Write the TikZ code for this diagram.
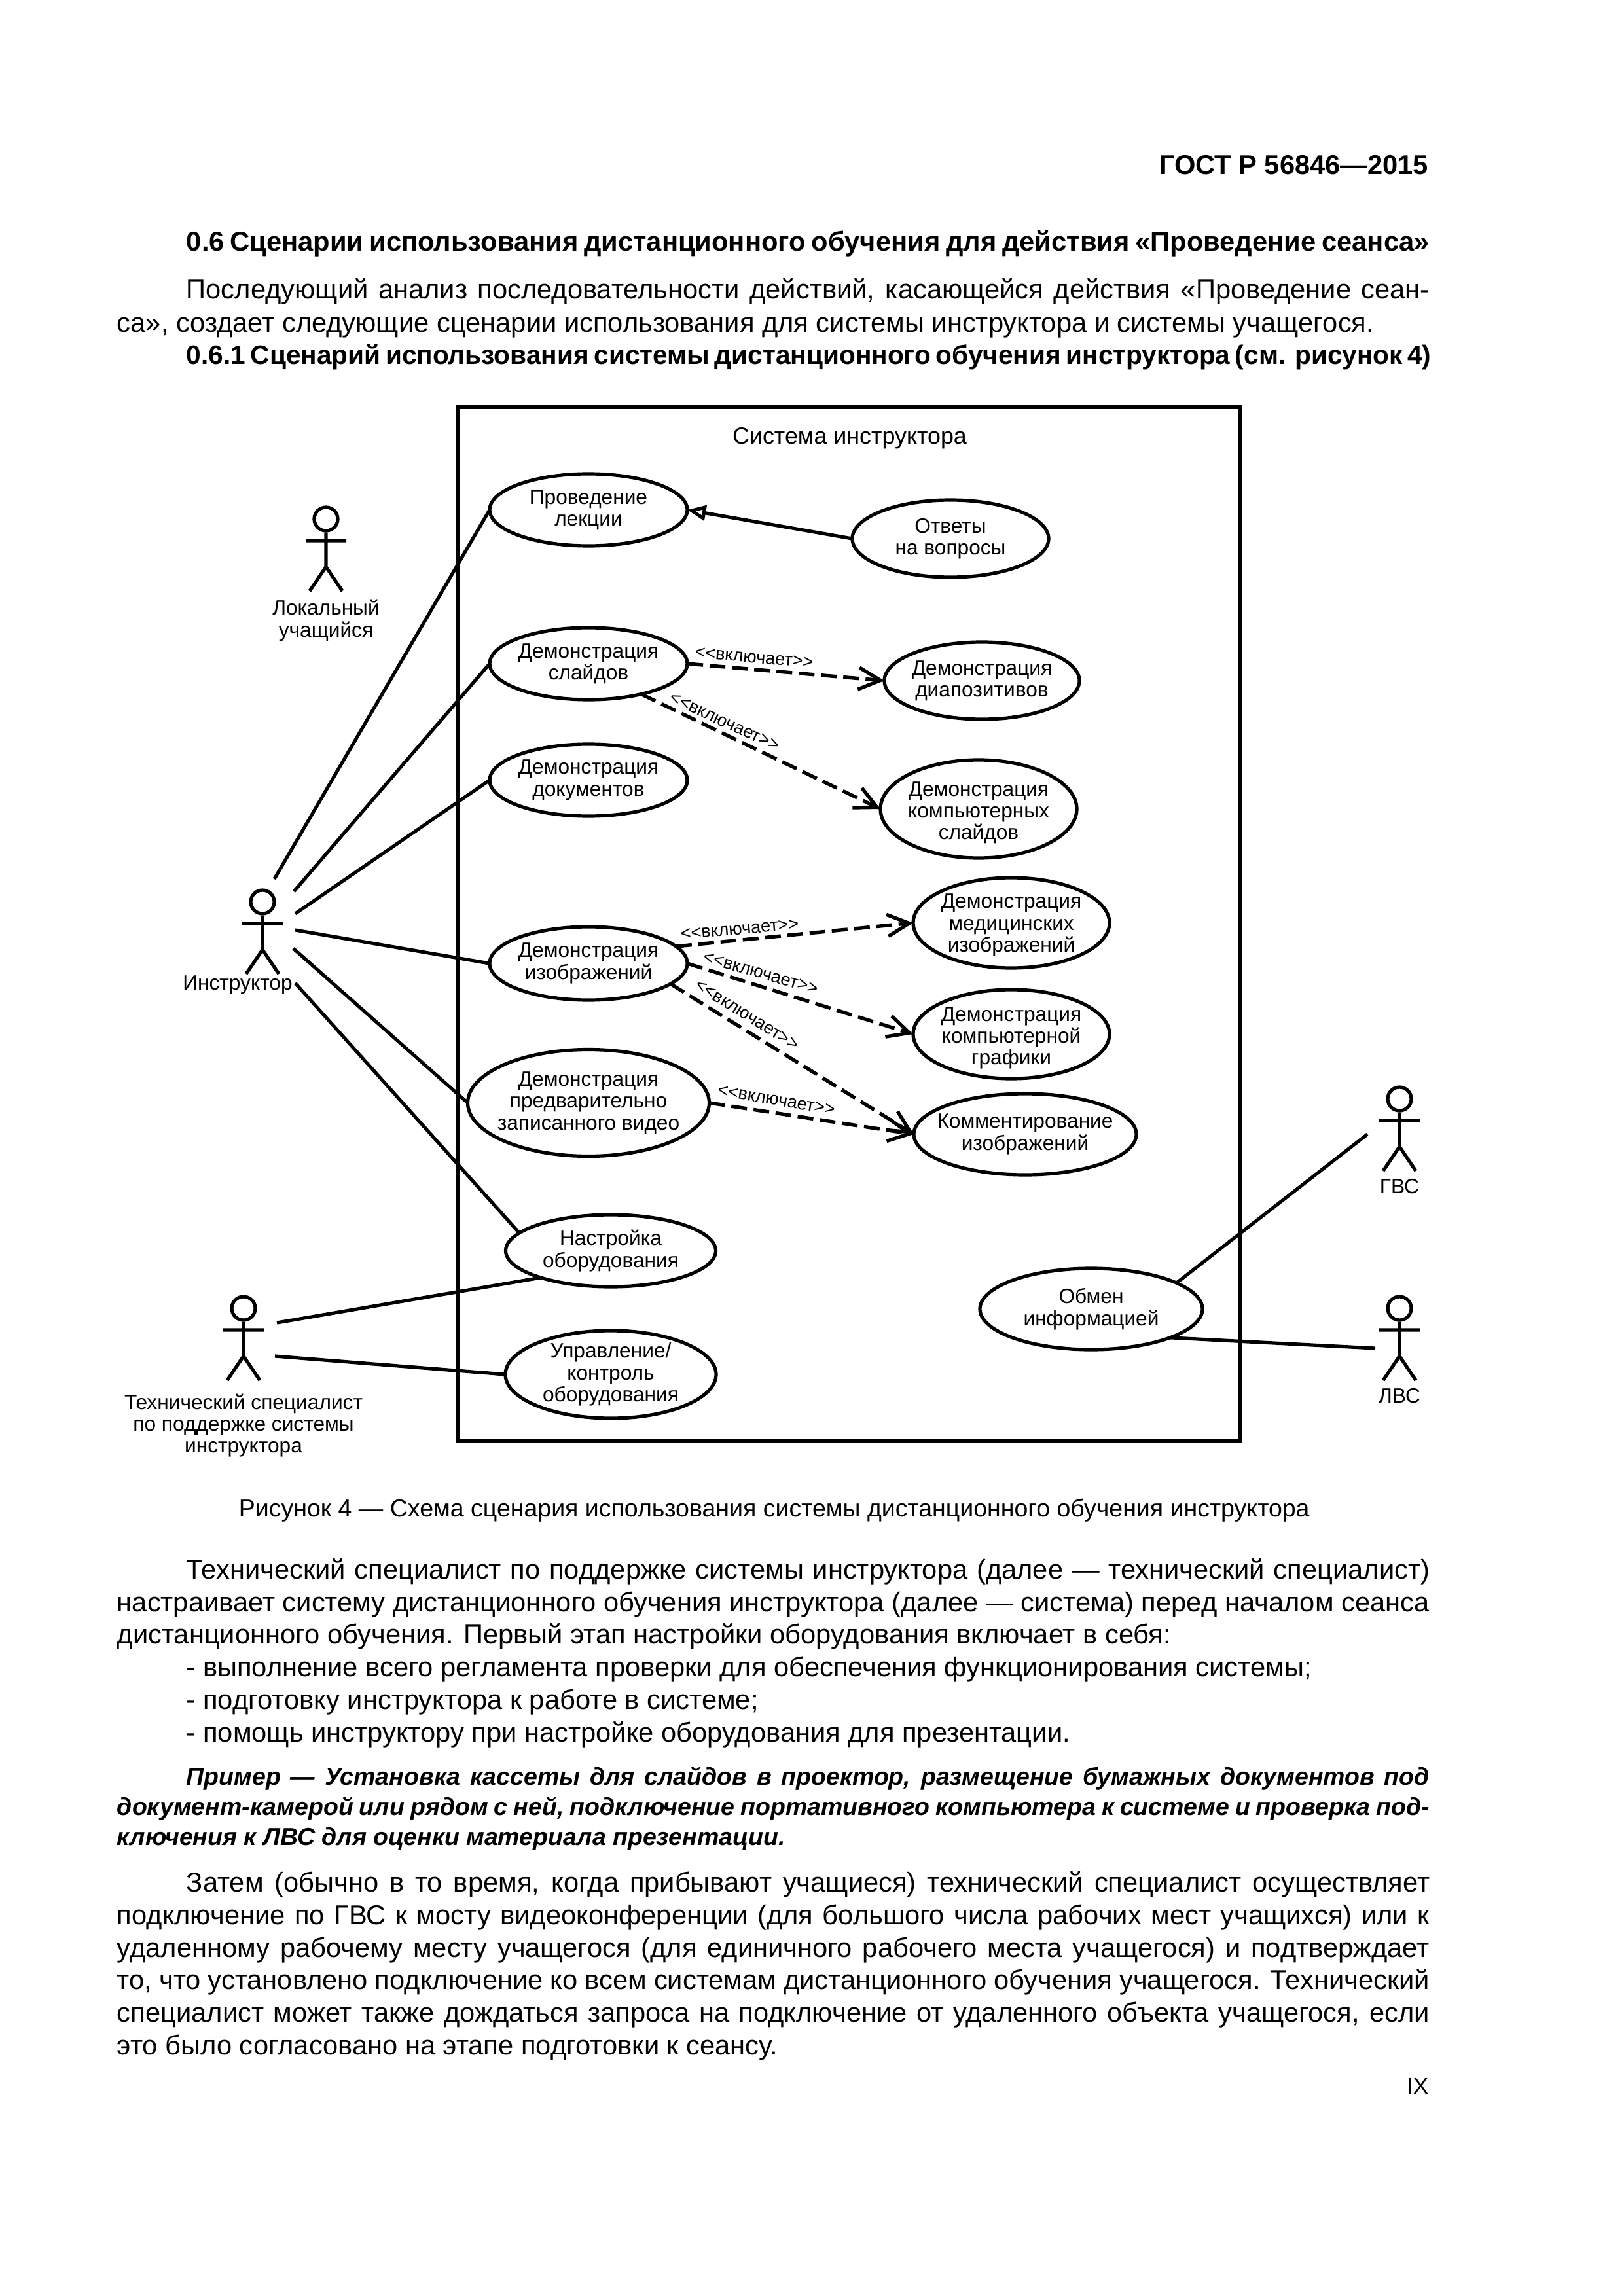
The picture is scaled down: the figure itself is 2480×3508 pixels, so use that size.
\documentclass[tikz,border=0pt]{standalone}
\usepackage{fontspec}
\setmainfont{Liberation Sans}
\usetikzlibrary{shapes.geometric,arrows.meta}

\newcommand{\bodyline}[1]{\makebox[481.2pt][s]{#1}}
\newcommand{\indentline}[1]{\makebox[455.8pt][s]{#1}}

\tikzset{
  usecase/.style 2 args={ellipse,draw,line width=1.25pt,inner sep=-12pt,outer sep=0pt,align=center,
    minimum width=#1*0.24pt,minimum height=#2*0.24pt,font=\fontsize{7.6}{8}\selectfont},
  assoc/.style={line width=1.25pt},
  incl/.style={line width=1.3pt,dash pattern=on 5.8pt off 2.4pt,-{Straight Barb[length=8pt,width=8pt]}},
  inherit/.style={line width=1.25pt,-{Triangle[open,fill=white,length=6.8pt,width=5.6pt]}},
  incltext/.style={inner sep=0pt,rotate=#1,font=\fontsize{6.5}{7}\selectfont},
  actortext/.style={inner sep=0pt,align=center,font=\fontsize{7.6}{8}\selectfont},
  body/.style={anchor=base west,inner sep=0pt,font=\fontsize{10}{12}\selectfont},
  bodyb/.style={body,font=\fontsize{10}{12}\selectfont\bfseries},
  bodyi/.style={body,font=\fontsize{9}{11}\selectfont\bfseries\itshape},
  actorfig/.pic={
    \node (-head) [circle,draw,line width=1.25pt,inner sep=0pt,minimum size=36*0.24pt] at (0,0) {};
    \draw [line width=1.25pt] (-head.south) -- (0,-73) (-31,-33) -- (31,-33) (-25,-110) -- (0,-73) -- (25,-110);
  }
}

\begin{document}
\begin{tikzpicture}[x=0.24pt,y=0.24pt,yscale=-1,xscale=1]
\useasboundingbox (0,0) rectangle (2480,3508);

% Text Node
\draw (2183,267) node (hdr) [bodyb,anchor=base east] {ГОСТ Р 56846—2015};
\draw (284,384) node (sec06) [bodyb] {\indentline{0.6 Сценарии использования дистанционного обучения для действия «Проведение сеанса»}};
\draw (284,457) node (para) [body] {\indentline{Последующий анализ последовательности действий, касающейся действия «Проведение сеан-}};
\draw (178,508) node (parb) [body] {са», создает следующие сценарии использования для системы инструктора и системы учащегося.};
\draw (284,557) node (sec061) [bodyb,font=\fontsize{9.75}{12}\selectfont\bfseries] {\indentline{0.6.1 Сценарий использования системы дистанционного обучения инструктора (см. рисунок 4)}};

%Shape: Boundary
\draw [line width=1.25pt] (700,622) rectangle (1894,2202);
% Text Node
\draw (1298,679) node (systitle) [anchor=base,inner sep=0pt,font=\fontsize{8.6}{9}\selectfont] {Система инструктора};

%Shape: Ellipse
\draw (899,779) node (lecture) [usecase={302}{110}] {Проведение\\лекции};
\draw (1452,823) node (answers) [usecase={300}{118}] {Ответы\\на вопросы};
\draw (899,1014) node (slides) [usecase={302}{110}] {Демонстрация\\слайдов};
\draw (1500,1040) node (transp) [usecase={298}{118}] {Демонстрация\\диапозитивов};
\draw (899,1192) node (docs) [usecase={302}{110}] {Демонстрация\\документов};
\draw (1495,1236) node (compsl) [usecase={300}{150}] {\rule{0pt}{8pt}Демонстрация\\компьютерных\\слайдов};
\draw (1545,1410) node (medimg) [usecase={300}{138}] {\rule{0pt}{7pt}Демонстрация\\медицинских\\изображений};
\draw (899,1472) node (images) [usecase={302}{112}] {Демонстрация\\изображений};
\draw (1545,1580) node (graph) [usecase={300}{136}] {\rule{0pt}{8pt}Демонстрация\\компьютерной\\графики};
\draw (899,1685) node (video) [usecase={369}{163}] {Демонстрация\\предварительно\\записанного видео};
\draw (1566,1733) node (annot) [usecase={340}{124}] {Комментирование\\изображений};
\draw (933,1911) node (setup) [usecase={321}{110}] {Настройка\\оборудования};
\draw (933,2100) node (control) [usecase={322}{134}] {Управление/\\контроль\\оборудования};
\draw (1667,2000) node (exch) [usecase={340}{124}] {Обмен\\информацией};

%Shape: Actor
\pic (local) at (498,793) {actorfig};
\pic (instr) at (401,1378) {actorfig};
\pic (tech) at (372,1999) {actorfig};
\pic (wan) at (2138,1679) {actorfig};
\pic (lan) at (2138,1999) {actorfig};

% Text Node
\draw (498,948) node (locallab) [actortext] {Локальный\\учащийся};
\draw (363,1505) node (instrlab) [actortext] {Инструктор};
\draw (372,2178) node (techlab) [actortext] {Технический специалист\\по поддержке системы\\инструктора};
\draw (2138,1813) node (wanlab) [actortext] {ГВС};
\draw (2138,2133) node (lanlab) [actortext] {ЛВС};

% Free ends beside the actors
\coordinate (i1) at (419,1343);
\coordinate (i2) at (449,1362);
\coordinate (i3) at (451,1396);
\coordinate (i4) at (451,1421);
\coordinate (i5) at (448,1449);
\coordinate (i6) at (451,1502);
\coordinate (t1) at (423,2021);
\coordinate (t2) at (420,2072);
\coordinate (w1) at (2089,1733);
\coordinate (l1) at (2101,2060);

%Shape: Association
\draw [assoc] (i1) -- (lecture.west);
\draw [assoc] (i2) -- (slides.west);
\draw [assoc] (i3) -- (docs.west);
\draw [assoc] (i4) -- (images.west);
\draw [assoc] (i5) -- (video.west);
\draw [assoc] (i6) -- (setup.169);
\draw [assoc] (t1) -- (setup.201);
\draw [assoc] (t2) -- (control.west);
\draw [assoc] (exch.17) -- (w1);
\draw [assoc] (exch.-20) -- (l1);

%Shape: Generalization
\draw [inherit] (answers.west) -- (lecture.east);

%Shape: Include
\draw [incl] (slides.east) -- (transp.west);
\draw [incl] (slides.-30) -- (compsl.west);
\draw [incl] (images.11) -- (medimg.west);
\draw [incl] (images.east) -- (graph.west);
\draw [incl] (images.-14) -- (annot.west);
\draw [incl] (video.east) -- (annot.west);

% Text Node
\draw (1152,1005) node (inc1) [incltext=-5] {<{}<включает>{}>};
\draw (1107,1103) node (inc2) [incltext=-25] {<{}<включает>{}>};
\draw (1130,1420) node (inc3) [incltext=5] {<{}<включает>{}>};
\draw (1162,1487) node (inc4) [incltext=-16] {<{}<включает>{}>};
\draw (1141,1551) node (inc5) [incltext=-32] {<{}<включает>{}>};
\draw (1186,1681) node (inc6) [incltext=-9.5] {<{}<включает>{}>};

% Text Node
\draw (364,2317) node (caption) [body,font=\fontsize{9}{11}\selectfont] {Рисунок 4 — Схема сценария использования системы дистанционного обучения инструктора};
\draw (284,2412) node (p1) [body] {\indentline{Технический специалист по поддержке системы инструктора (далее — технический специалист)}};
\draw (178,2462) node (p2) [body] {\bodyline{настраивает систему дистанционного обучения инструктора (далее — система) перед началом сеанса}};
\draw (178,2511) node (p3) [body] {дистанционного обучения. Первый этап настройки оборудования включает в себя:};
\draw (284,2561) node (l1t) [body] {- выполнение всего регламента проверки для обеспечения функционирования системы;};
\draw (284,2611) node (l2t) [body] {- подготовку инструктора к работе в системе;};
\draw (284,2661) node (l3t) [body] {- помощь инструктору при настройке оборудования для презентации.};
\draw (284,2727) node (ex1) [bodyi] {\indentline{Пример — Установка кассеты для слайдов в проектор, размещение бумажных документов под}};
\draw (178,2773) node (ex2) [bodyi] {\bodyline{документ-камерой или рядом с ней, подключение портативного компьютера к системе и проверка под-}};
\draw (178,2819) node (ex3) [bodyi] {ключения к ЛВС для оценки материала презентации.};
\draw (284,2890) node (q1) [body] {\indentline{Затем (обычно в то время, когда прибывают учащиеся) технический специалист осуществляет}};
\draw (178,2940) node (q2) [body] {\bodyline{подключение по ГВС к мосту видеоконференции (для большого числа рабочих мест учащихся) или к}};
\draw (178,2990) node (q3) [body] {\bodyline{удаленному рабочему месту учащегося (для единичного рабочего места учащегося) и подтверждает}};
\draw (178,3039) node (q4) [body] {\bodyline{то, что установлено подключение ко всем системам дистанционного обучения учащегося. Технический}};
\draw (178,3089) node (q5) [body] {\bodyline{специалист может также дождаться запроса на подключение от удаленного объекта учащегося, если}};
\draw (178,3139) node (q6) [body] {это было согласовано на этапе подготовки к сеансу.};
\draw (2183,3199) node (pageno) [body,anchor=base east,font=\fontsize{8.4}{10}\selectfont] {IX};

\end{tikzpicture}
\end{document}
